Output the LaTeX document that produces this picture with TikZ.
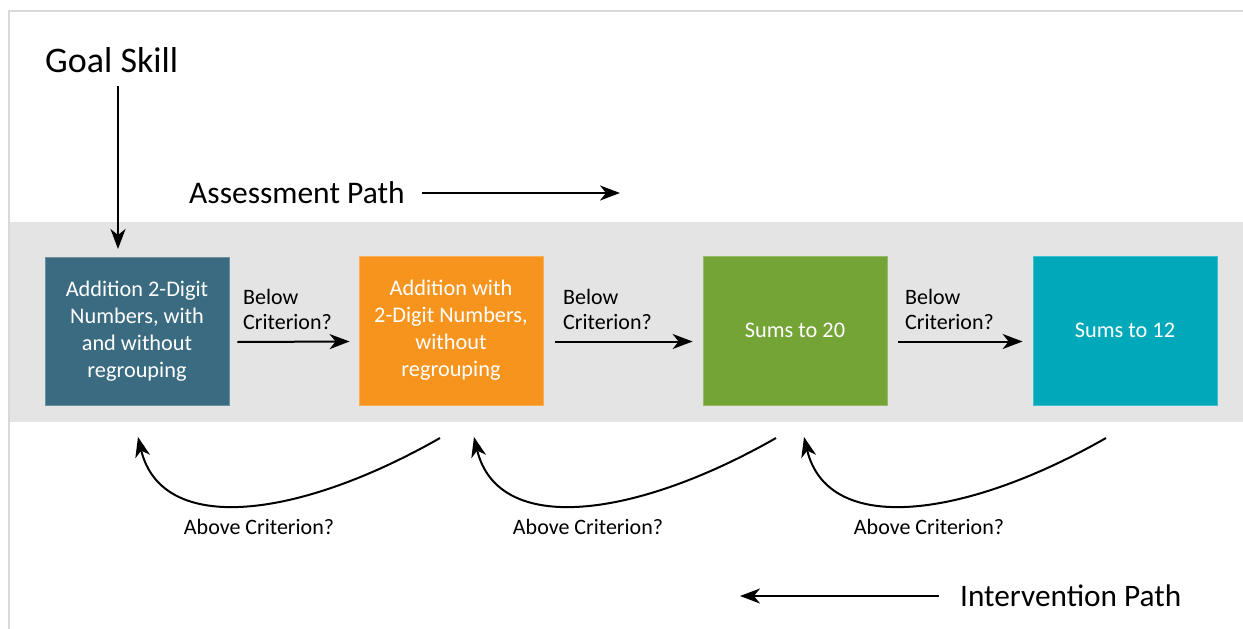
\documentclass[tikz,border=0pt]{standalone}
\usepackage{fontspec}
\setmainfont{Carlito}
\usetikzlibrary{arrows.meta}
\definecolor{frameline}{HTML}{D9D9D9}
\definecolor{bandgray}{HTML}{E4E4E4}
\definecolor{boxslate}{HTML}{3B6B80}
\definecolor{boxorange}{HTML}{F7941E}
\definecolor{boxgreen}{HTML}{74A336}
\definecolor{boxteal}{HTML}{00A9B9}
\begin{document}
\begin{tikzpicture}[x=1pt,y=-1pt,
  stepbox/.style={minimum width=184pt, minimum height=149pt, inner sep=0pt,
    text=white, align=center, font=\fontsize{22.3}{27}\selectfont,
    fill=#1, draw=#1!75!white, line width=0.8pt},
  flow/.style={-{Stealth[length=20pt,width=15pt,inset=6pt]}, line width=2pt, black},
  lbl/.style={font=\fontsize{22}{25}\selectfont, align=left, inner sep=0pt},
  title/.style={inner sep=0pt, anchor=base west}]
\useasboundingbox (0,0) rectangle (1243,629);
% outer frame (top and left edges)
\draw[frameline, line width=2pt] (9,629) -- (9,10.5) -- (1243,10.5);
% band behind the skill boxes
\fill[bandgray] (10,222) rectangle (1243,422);

% skill boxes
\node[stepbox=boxslate, minimum height=148pt] (b1) at (137,331)
  {Addition 2-Digit\\Numbers, with\\and without\\regrouping};
\node[stepbox=boxorange] (b2) at (451,330.5)
  {Addition with\\2-Digit Numbers,\\without\\regrouping};
\node[stepbox=boxgreen] (b3) at (795,330.5) {Sums to 20};
\node[stepbox=boxteal] (b4) at (1125,330.5) {Sums to 12};

% headings
\node[title, font=\fontsize{36}{42}\selectfont] (goal) at (45,72) {Goal Skill};
\node[title, font=\fontsize{31.5}{36}\selectfont] (assess) at (189,203) {Assessment Path};
\node[title, font=\fontsize{31.3}{37}\selectfont] (interv) at (960,606) {Intervention Path};

% goal skill arrow
\coordinate (gtop) at (118,86);
\coordinate (gbot) at (118,249);
\draw[flow] (gtop) -- (gbot);

% direction arrows
\coordinate (aend) at (620,193);
\draw[flow] ([xshift=17pt,yshift=10pt]assess.base east) -- (aend);
\coordinate (iend) at (740,596);
\draw[flow] ([xshift=-21pt,yshift=10pt]interv.base west) -- (iend);

% assessment steps
\draw[flow] ([xshift=8pt,yshift=-11pt]b1.east) -- ([xshift=-9pt,yshift=-11pt]b2.west);
\draw[flow] ([xshift=12pt,yshift=-11pt]b2.east) -- ([xshift=-10pt,yshift=-11pt]b3.west);
\draw[flow] ([xshift=11pt,yshift=-11pt]b3.east) -- ([xshift=-10pt,yshift=-11pt]b4.west);
\node[lbl, anchor=base west] (l12) at (243,329) {Below\\Criterion?};
\node[lbl, anchor=base west] (l23) at (563,329) {Below\\Criterion?};
\node[lbl, anchor=base west] (l34) at (905,329) {Below\\Criterion?};

% intervention steps
\coordinate (s2) at (440,438);  \coordinate (t1) at (138,437);
\coordinate (s3) at (776,438);  \coordinate (t2) at (474,437);
\coordinate (s4) at (1106,438); \coordinate (t3) at (804,437);
\draw[flow] (s2) .. controls +(-140,80) and +(24,100) .. (t1);
\draw[flow] (s3) .. controls +(-140,80) and +(24,100) .. (t2);
\draw[flow] (s4) .. controls +(-140,80) and +(24,100) .. (t3);
\node[lbl, anchor=base] (a1) at (259,534) {Above Criterion?};
\node[lbl, anchor=base] (a2) at (588,534) {Above Criterion?};
\node[lbl, anchor=base] (a3) at (929,534) {Above Criterion?};
\end{tikzpicture}
\end{document}
